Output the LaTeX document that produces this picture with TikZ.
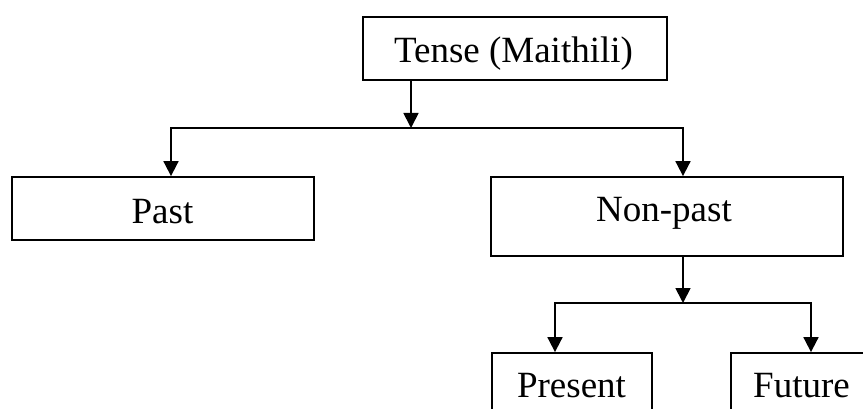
\documentclass[tikz,border=0pt]{standalone}
\usepackage{fontspec}
\setmainfont{Liberation Serif}
\usetikzlibrary{arrows.meta}
\begin{document}
\begin{tikzpicture}[x=1pt,y=-1pt,
  box/.style={draw, line width=1.8pt, rectangle, inner sep=0pt},
  lbl/.style={anchor=base, inner sep=0pt, font=\fontsize{37}{44}\selectfont},
  link/.style={line width=1.8pt, -{Triangle[width=15pt,length=15pt]}},
  fork/.style={line width=1.8pt, {Triangle[width=15pt,length=15pt]}-{Triangle[width=15pt,length=15pt]}}]
\useasboundingbox (0,0) rectangle (863,409);
\clip (0,0) rectangle (863,409);

% boxes
\node[box, minimum width=304pt, minimum height=63pt] (tense) at (515,48.5) {};
\node[box, minimum width=302pt, minimum height=63pt] (past) at (163,208.5) {};
\node[box, minimum width=352pt, minimum height=79pt] (np) at (667,216.5) {};
\node[box, minimum width=160pt, minimum height=63pt] (pres) at (572,384.5) {};
\node[box, minimum width=141pt, minimum height=63pt] (fut) at (801.5,384.5) {};

% labels
\node[lbl] (tenseT) at (513.5,63) {Tense (Maithili)};
\node[lbl] (pastT) at (162.5,223) {Past};
\node[lbl] (npT) at (664,222) {Non-past};
\node[lbl] (presT) at (571.5,397) {Present};
\node[lbl] (futT) at (801.5,397) {Future};

% branching points
\coordinate (j1) at (411,128);
\coordinate (j1l) at (171,128);
\coordinate (j1r) at (683,128);
\coordinate (j2) at (683,303);
\coordinate (j2l) at (555,303);
\coordinate (j2r) at (811,303);

% connectors
\draw[link] (tense.south -| j1) -- (j1);
\draw[fork] (j1l |- past.north) -- (j1l) -- (j1r) -- (j1r |- np.north);
\draw[link] (np.south -| j2) -- (j2);
\draw[fork] (j2l |- pres.north) -- (j2l) -- (j2r) -- (j2r |- fut.north);
\end{tikzpicture}
\end{document}
